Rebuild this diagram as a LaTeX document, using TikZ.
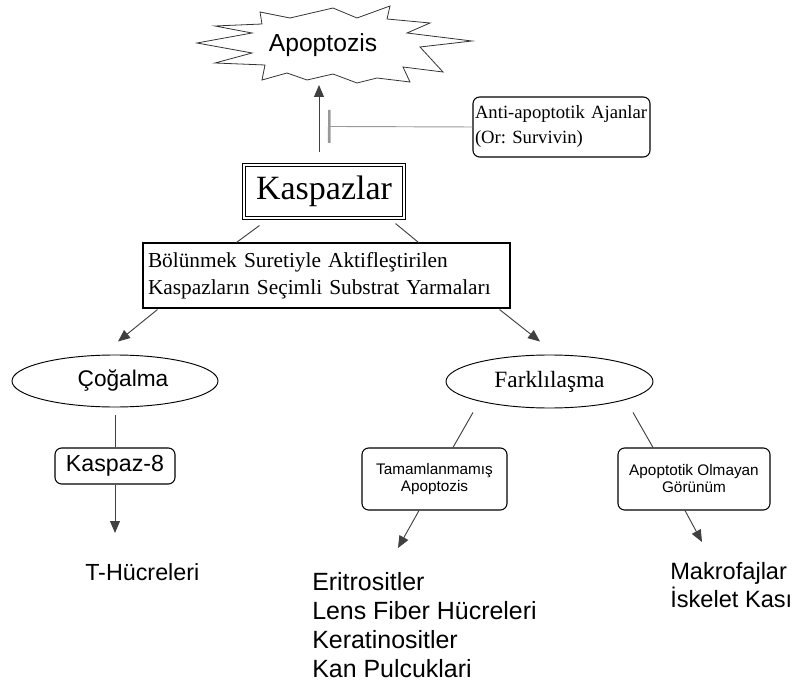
\documentclass[tikz,border=0pt]{standalone}
\usepackage{fontspec}
\setmainfont{Liberation Serif}
\setsansfont{Liberation Sans}
\usetikzlibrary{shapes.geometric, arrows.meta, calc}
\frenchspacing

\begin{document}
\begin{tikzpicture}[x=0.75pt, y=-0.75pt,
  box/.style={draw, rectangle, inner sep=0pt, line width=0.8pt},
  rbox/.style={draw, rectangle, rounded corners=5pt, inner sep=0pt, line width=0.8pt, align=center},
  oval/.style={draw, ellipse, inner sep=0pt, line width=0.7pt},
  link/.style={draw=black!75, line width=0.7pt},
  arr/.style={link, -{Triangle[length=9pt, width=7.5pt]}},
  inhib/.style={draw=black!40, line width=0.7pt, -{Bar[width=24.75pt, line width=2pt]}},
  plain/.style={font=\sffamily\fontsize{18.7}{21.75}\selectfont, align=left, inner sep=0pt}]

  \useasboundingbox (0,0) rectangle (797,688);

  % Apoptosis burst
  \draw[line width=0.6pt, black!80] (197,43) -- (252,33) -- (215,26) -- (262,24) -- (260,12)
    -- (290,18) -- (333,8) -- (357,18) -- (390,6) -- (387,19) -- (430,23) -- (407,33)
    -- (472,41) -- (420,47) -- (443,72) -- (403,67) -- (410,82) -- (377,78) -- (357,83)
    -- (333,74) -- (307,80) -- (287,73) -- (262,80) -- (265,65) -- (215,63) -- (252,53) -- cycle;
  \node[font=\sffamily\fontsize{18.5}{22}\selectfont] (apop) at (323,45) {Apoptozis};

  % Caspases and inhibitors
  \node[rbox, text width=129.75pt, inner xsep=1.5pt, minimum height=45pt, align=left,
    font=\fontsize{14}{18.75}\selectfont] (anti) at (561.5,127) {Anti-apoptotik Ajanlar\\(Or: Survivin)};
  \node[box, double, double distance=1.5pt, minimum width=120pt, minimum height=39.75pt,
    font=\fontsize{25.5}{28}\selectfont] (kasp) at (324,191.5) {Kaspazlar};
  \node[box, text width=267.75pt, inner xsep=3.75pt, minimum height=48.75pt, align=left,
    font=\fontsize{16}{20.25}\selectfont] (bol) at (326.5,275.5)
    {Bölünmek Suretiyle Aktifleştirilen\\Kaspazların Seçimli Substrat Yarmaları};

  \draw[arr] ($(kasp.north)+(-5,-12)$) -- ($(apop)+(-4,40)$);
  \draw[inhib] (anti.west) -- ($(kasp.north)+(4,-38)$);
  \draw[link] ($(kasp.south west)+(16,7)$) -- ($(bol.north west)+(94,0)$);
  \draw[link] ($(kasp.south east)+(-9,5)$) -- ($(bol.north east)+(-92,0)$);

  % Proliferation
  \node[oval, minimum width=154.5pt, minimum height=39pt,
    font=\sffamily\fontsize{17}{20}\selectfont] (cog) at (115,381) {\hspace*{12pt}Çoğalma};
  \node[rbox, minimum width=90pt, minimum height=27pt,
    font=\sffamily\fontsize{17.4}{20}\selectfont] (k8) at (115,466) {Kaspaz-8};
  \node[plain, anchor=west, font=\sffamily\fontsize{17.5}{20}\selectfont] (thuc) at (85,572) {T-Hücreleri};

  \draw[arr] ($(bol.south west)+(15,1)$) -- ($(cog.north)+(3,-13)$);
  \draw[link] ($(cog.south)+(0,8)$) -- (k8.north);
  \draw[arr] (k8.south) -- ($(thuc.west)+(30,-39)$);

  % Differentiation
  \node[oval, minimum width=155.25pt, minimum height=39.75pt,
    font=\fontsize{17.5}{20}\selectfont] (fark) at (549.5,381.5) {Farklılaşma};
  \node[rbox, minimum width=108.75pt, minimum height=46.5pt,
    font=\sffamily\fontsize{11.5}{12.75}\selectfont] (tam) at (434.5,479) {Tamamlanmamış\\Apoptozis};
  \node[rbox, minimum width=114pt, minimum height=46.5pt,
    font=\sffamily\fontsize{11.5}{12.75}\selectfont] (aom) at (694,479) {Apoptotik Olmayan\\Görünüm};
  \node[plain, anchor=north west] (cells) at (312,572)
    {Eritrositler\\Lens Fiber Hücreleri\\Keratinositler\\Kan Pulcuklari};
  \node[plain, anchor=north west, font=\sffamily\fontsize{17.7}{21}\selectfont] (organs) at (670,562)
    {Makrofajlar\\İskelet Kası};

  \draw[arr] ($(bol.south east)+(-11,1)$) -- ($(fark.north)+(-9.5,-13)$);
  \draw[link] ($(fark.south)+(-76.5,4)$) -- ($(tam.north)+(18.5,0)$);
  \draw[link] ($(fark.south)+(83.5,4)$) -- ($(aom.north)+(-41,0)$);
  \draw[arr] ($(tam.south)+(-15.5,0)$) -- ($(cells.north west)+(86,-24)$);
  \draw[arr] ($(aom.south)+(-9,0)$) -- ($(organs.north west)+(32,-20)$);

\end{tikzpicture}
\end{document}
